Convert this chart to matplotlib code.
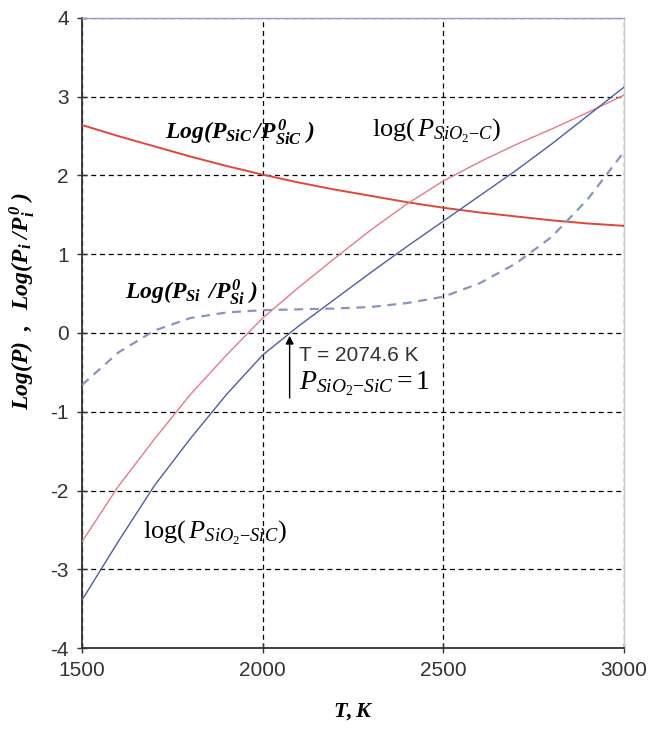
import matplotlib
matplotlib.use("Agg")
import matplotlib.pyplot as plt

plt.rcParams['axes.unicode_minus'] = False
plt.rcParams['mathtext.fontset'] = 'custom'
plt.rcParams['mathtext.rm'] = 'Liberation Serif'
plt.rcParams['mathtext.it'] = 'Liberation Serif:italic'
plt.rcParams['mathtext.bf'] = 'Liberation Serif:bold:italic'
plt.rcParams['mathtext.fallback'] = 'stix'

T = [1500, 1600, 1700, 1800, 1900, 2000, 2100, 2200, 2300, 2400,
     2500, 2600, 2700, 2800, 2900, 3000]
log_sic = [2.64, 2.50, 2.37, 2.24, 2.12, 2.01, 1.91, 1.82, 1.74, 1.66,
           1.59, 1.53, 1.48, 1.43, 1.39, 1.36]
log_sio2_c = [-2.65, -1.95, -1.35, -0.78, -0.28, 0.19, 0.58, 0.95, 1.31, 1.64,
              1.93, 2.17, 2.39, 2.59, 2.80, 3.02]
log_sio2_sic = [-3.39, -2.65, -1.94, -1.34, -0.78, -0.28, 0.09, 0.43, 0.77, 1.10,
                1.42, 1.74, 2.06, 2.40, 2.76, 3.12]
log_si = [-0.66, -0.25, 0.03, 0.19, 0.26, 0.29, 0.30, 0.31, 0.33, 0.38,
          0.46, 0.63, 0.88, 1.22, 1.70, 2.30]

x_ticks = [1500, 2000, 2500, 3000]
y_ticks = [-4, -3, -2, -1, 0, 1, 2, 3, 4]
T_mark = 2074.6

fig = plt.figure(figsize=(6.51, 7.31), dpi=100)
ax = fig.add_axes([0.126, 0.1135, 0.8325, 0.862])

ax.plot(T, log_sic, color='#e0473a', lw=1.4, zorder=3)
ax.plot(T, log_sio2_c, color='#e57a8a', lw=1.0, zorder=3)
ax.plot(T, log_sio2_sic, color='#4d5ea6', lw=1.0, zorder=3)
ax.plot(T, log_si, color='#8795bf', lw=1.6, ls=(0, (4, 3)), zorder=3)

ax.set_xlim(1500, 3000)
ax.set_ylim(-4, 4)
ax.set_xticks(x_ticks)
ax.set_yticks(y_ticks)
ax.grid(True, color='black', ls=(0, (4, 3)), lw=0.9)
ax.tick_params(direction='inout', length=7, width=1, labelsize=15,
               colors='#333333', pad=6)
for lab in ax.get_xticklabels() + ax.get_yticklabels():
    lab.set_family('Liberation Sans')

ax.spines['left'].set_color('#333333')
ax.spines['bottom'].set_color('#333333')
ax.spines['left'].set_linewidth(1.3)
ax.spines['bottom'].set_linewidth(1.3)
ax.spines['top'].set_color('#9a9ad0')
ax.spines['top'].set_linewidth(1.0)
ax.spines['right'].set_color('#c8c8d8')
ax.spines['right'].set_linewidth(1.0)

ax.set_xlabel(r'$\mathbf{T, K}$', fontsize=16)
ax.xaxis.set_label_coords(0.5, -0.085)
ax.set_ylabel(r'$\mathbf{Log(P)\ \ ,\ \ Log(P_i\ /P_i^{\,0}\ )}$', fontsize=17)
ax.yaxis.set_label_coords(-0.083, 0.55)

ax.text(1936, 2.55, r'$\mathbf{Log(P_{SiC}\,/P^{\,0}_{SiC}\ )}$', fontsize=17,
        ha='center', va='center', zorder=5)
ax.text(2481, 2.57, r'$\mathrm{log}(\,P_{SiO_2{-}C})$', fontsize=19,
        ha='center', va='center', zorder=5)
ax.text(1804, 0.52, r'$\mathbf{Log(P_{Si}\ \,/P^{\,0}_{Si}\ )}$', fontsize=17,
        ha='center', va='center', zorder=5)
ax.text(1867, -2.54, r'$\mathrm{log}(\,P_{SiO_2{-}SiC})$', fontsize=19,
        ha='center', va='center', zorder=5)
ax.text(2100, -0.28, 'T = 2074.6 K', fontsize=15, family='Liberation Sans',
        color='#333333', ha='left', va='center', zorder=5)
ax.text(2100, -0.64, r'$P_{SiO_2{-}SiC}=1$', fontsize=20,
        ha='left', va='center', zorder=5)
ax.annotate('', xy=(T_mark, 0.0), xytext=(T_mark, -0.86),
            arrowprops=dict(arrowstyle='-|>', color='black', lw=1.0,
                            mutation_scale=12), zorder=6)

fig.savefig('out.png', dpi=100)
